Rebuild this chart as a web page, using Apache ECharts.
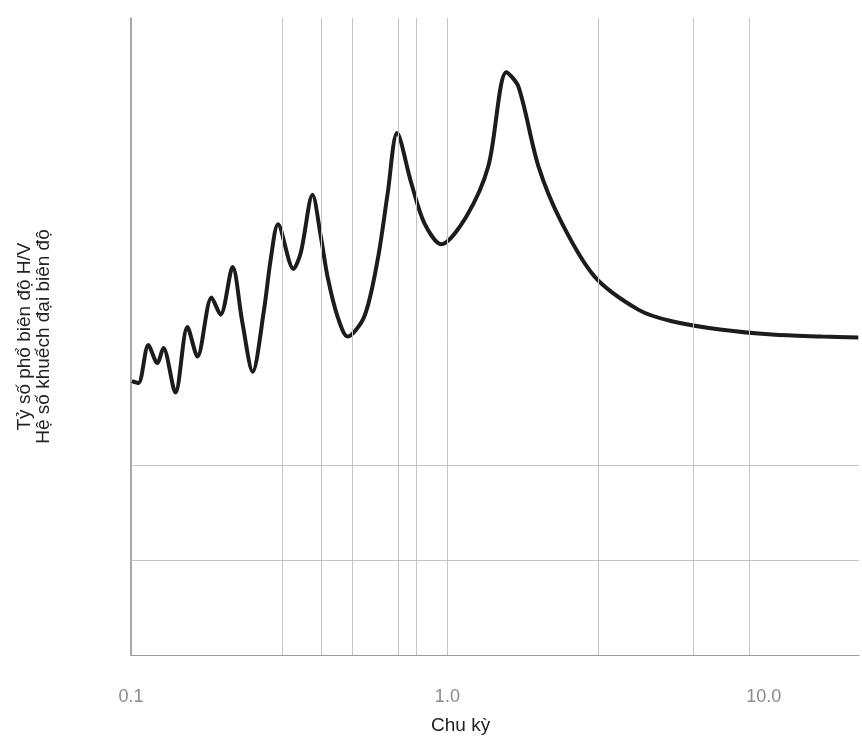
<!DOCTYPE html>
<html>
<head>
<meta charset="utf-8">
<script src="https://cdn.jsdelivr.net/npm/echarts@6/dist/echarts.min.js"></script>
<style>
  html, body { margin: 0; padding: 0; background: #fff; }
  #ec { width: 862px; height: 740px; }
</style>
</head>
<body>
<div id="ec"></div>
<script>
var periods = [0.1007, 0.1055, 0.1135, 0.1211, 0.1266, 0.1382, 0.1508, 0.1622, 0.1797, 0.1919,
  0.2095, 0.2248, 0.2424, 0.2633, 0.2764, 0.2915, 0.3262, 0.344, 0.3748, 0.3981,
  0.418, 0.4497, 0.4838, 0.5462, 0.6022, 0.6478, 0.6934, 0.768, 0.8463, 0.9557,
  1.147, 1.347, 1.536, 1.676, 1.94, 2.295, 2.92, 4.025, 5.121, 7.377,
  10.62, 15.3, 19.9]
var ratios = [2.88, 2.86, 3.26, 3.07, 3.23, 2.76, 3.45, 3.14, 3.76, 3.58,
  4.08, 3.50, 2.98, 3.63, 4.16, 4.53, 4.06, 4.23, 4.84, 4.40,
  3.98, 3.56, 3.35, 3.56, 4.16, 4.86, 5.49, 4.97, 4.54, 4.32,
  4.61, 5.14, 6.13, 5.98, 5.14, 4.55, 3.98, 3.63, 3.51, 3.42,
  3.37, 3.35, 3.34]
var xTickLabels = { '0.1': '0.1', '1': '1.0', '10': '10.0' }
var gridPeriods = [0.3, 0.4, 0.5, 0.7, 0.8, 1, 3, 6, 9]
var gridRatios = [1, 2]

var myEchart = echarts.init(document.getElementById('ec'))

var pts = periods.map(function (p, i) { return [p, ratios[i]] })
var marks = gridPeriods.map(function (p) { return { xAxis: p } })
  .concat(gridRatios.map(function (r) { return { yAxis: r } }))

myEchart.setOption({
  backgroundColor: '#fff',
  animation: false,
  grid: { left: 131, right: 2, top: 18, bottom: 85 },
  xAxis: {
    type: 'log',
    logBase: 10,
    min: 0.1,
    max: 20,
    axisLine: { show: true, lineStyle: { color: '#9a9a9a', width: 1 } },
    axisTick: { show: false },
    splitLine: { show: false },
    axisLabel: {
      margin: 33,
      color: '#8a8a8a',
      fontSize: 18,
      fontFamily: 'Liberation Sans, Arial, sans-serif',
      formatter: function (v) {
        var k = String(+v.toPrecision(3))
        return xTickLabels[k] || ''
      }
    }
  },
  yAxis: {
    type: 'value',
    min: 0,
    max: 6.7,
    name: 'Tỷ số phổ biên độ H/V\nHệ số khuếch đại biên độ',
    nameLocation: 'middle',
    nameRotate: 90,
    nameGap: 78,
    nameTextStyle: {
      color: '#222',
      fontSize: 19,
      lineHeight: 19,
      fontFamily: 'Liberation Sans, Arial, sans-serif'
    },
    axisLine: { show: true, lineStyle: { color: '#8a8a8a', width: 1.5 } },
    axisTick: { show: false },
    axisLabel: { show: false },
    splitLine: { show: false }
  },
  graphic: [{
    type: 'text',
    left: 431,
    top: 716,
    style: {
      text: 'Chu kỳ',
      fill: '#222',
      fontSize: 19,
      fontFamily: 'Liberation Sans, Arial, sans-serif'
    }
  }],
  series: [{
    type: 'line',
    data: pts,
    smooth: 0.3,
    symbol: 'none',
    lineStyle: { color: '#1c1c1c', width: 4 },
    markLine: {
      silent: true,
      symbol: 'none',
      label: { show: false },
      lineStyle: { color: '#c4c4c4', type: 'solid', width: 1 },
      data: marks
    }
  }]
})
</script>
</body>
</html>
